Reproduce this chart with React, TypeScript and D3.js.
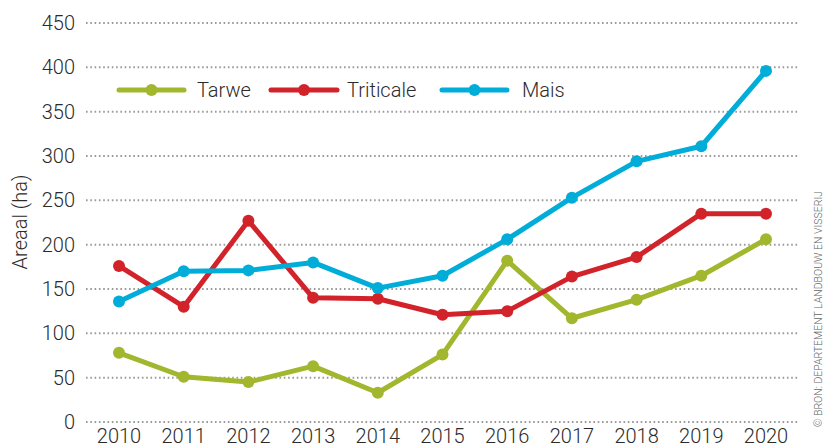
import React, { useEffect, useRef } from 'react';
import * as d3 from 'd3';

const years = ['2010', '2011', '2012', '2013', '2014', '2015', '2016', '2017', '2018', '2019', '2020'];
const tarwe = [78, 51, 45, 63, 33, 76, 182, 117, 138, 165, 206];
const triticale = [176, 130, 227, 140, 139, 121, 125, 164, 186, 235, 235];
const mais = [136, 170, 171, 180, 151, 165, 206, 253, 294, 311, 396];
const yTicks = [0, 50, 100, 150, 200, 250, 300, 350, 400, 450];

const seriesList = [
  { name: 'Tarwe', values: tarwe, color: '#a2b72e' },
  { name: 'Triticale', values: triticale, color: '#d2232a' },
  { name: 'Mais', values: mais, color: '#00acd8' },
];

const App: React.FC = () => {
  const svgRef = useRef<SVGSVGElement>(null);

  useEffect(() => {
    if (!svgRef.current) return;
    const svg = d3.select(svgRef.current);
    svg.selectAll('*').remove();

    const font = 'Roboto, "DejaVu Sans", sans-serif';
    const textColor = '#2b2b2b';

    const x = d3.scalePoint().domain(years).range([119, 766]);
    const y = d3.scaleLinear().domain([0, 450]).range([422, 23]);

    // gridlines + y labels
    const grid = svg.append('g');
    yTicks.forEach(t => {
      grid.append('line')
        .attr('x1', 86).attr('x2', 798)
        .attr('y1', y(t)).attr('y2', y(t))
        .attr('stroke', '#9a9a9a')
        .attr('stroke-width', 2)
        .attr('stroke-dasharray', '1.6,2.7');
      grid.append('text')
        .attr('x', 75).attr('y', y(t))
        .attr('dy', '0.35em')
        .attr('text-anchor', 'end')
        .attr('font-family', font)
        .attr('font-size', 20)
        .attr('font-weight', 300)
        .attr('fill', textColor)
        .text(t);
    });

    // x labels
    svg.append('g').selectAll('text')
      .data(years).enter().append('text')
      .attr('x', d => x(d) as number)
      .attr('y', 443)
      .attr('text-anchor', 'middle')
      .attr('font-family', font)
      .attr('font-size', 20)
      .attr('font-weight', 300)
      .attr('fill', textColor)
      .text(d => d);

    // y axis title
    svg.append('text')
      .attr('transform', 'translate(27,222) rotate(-90)')
      .attr('text-anchor', 'middle')
      .attr('font-family', font)
      .attr('font-size', 20)
      .attr('font-weight', 300)
      .attr('fill', textColor)
      .text('Areaal (ha)');

    // credit
    svg.append('text')
      .attr('transform', 'translate(822,309) rotate(-90)')
      .attr('text-anchor', 'middle')
      .attr('font-family', font)
      .attr('font-size', 10.5)
      .attr('font-weight', 300)
      .attr('fill', '#666')
      .text('© BRON: DEPARTEMENT LANDBOUW EN VISSERIJ');

    const line = d3.line<number>()
      .x((_, i) => x(years[i]) as number)
      .y(d => y(d));

    seriesList.forEach(s => {
      const g = svg.append('g');
      g.append('path')
        .datum(s.values)
        .attr('fill', 'none')
        .attr('stroke', s.color)
        .attr('stroke-width', 5)
        .attr('stroke-linejoin', 'round')
        .attr('d', line);
      g.selectAll('circle')
        .data(s.values).enter().append('circle')
        .attr('cx', (_, i) => x(years[i]) as number)
        .attr('cy', d => y(d))
        .attr('r', 6)
        .attr('fill', s.color);
    });

    // legend
    const legendPos = [
      { x1: 119, x2: 184, tx: 197 },
      { x1: 271, x2: 337, tx: 347 },
      { x1: 442, x2: 507, tx: 522 },
    ];
    const ly = 90;
    seriesList.forEach((s, i) => {
      const p = legendPos[i];
      svg.append('line')
        .attr('x1', p.x1).attr('x2', p.x2)
        .attr('y1', ly).attr('y2', ly)
        .attr('stroke', s.color)
        .attr('stroke-width', 5)
        .attr('stroke-linecap', 'round');
      svg.append('circle')
        .attr('cx', (p.x1 + p.x2) / 2).attr('cy', ly)
        .attr('r', 6)
        .attr('fill', s.color);
      svg.append('text')
        .attr('x', p.tx).attr('y', ly)
        .attr('dy', '0.35em')
        .attr('font-family', font)
        .attr('font-size', 20)
        .attr('font-weight', 300)
        .attr('fill', textColor)
        .text(s.name);
    });
  }, []);

  return (
    <svg ref={svgRef} width={825} height={448}
      style={{ position: 'absolute', left: 0, top: 0, background: '#fff' }} />
  );
};

export default App;
